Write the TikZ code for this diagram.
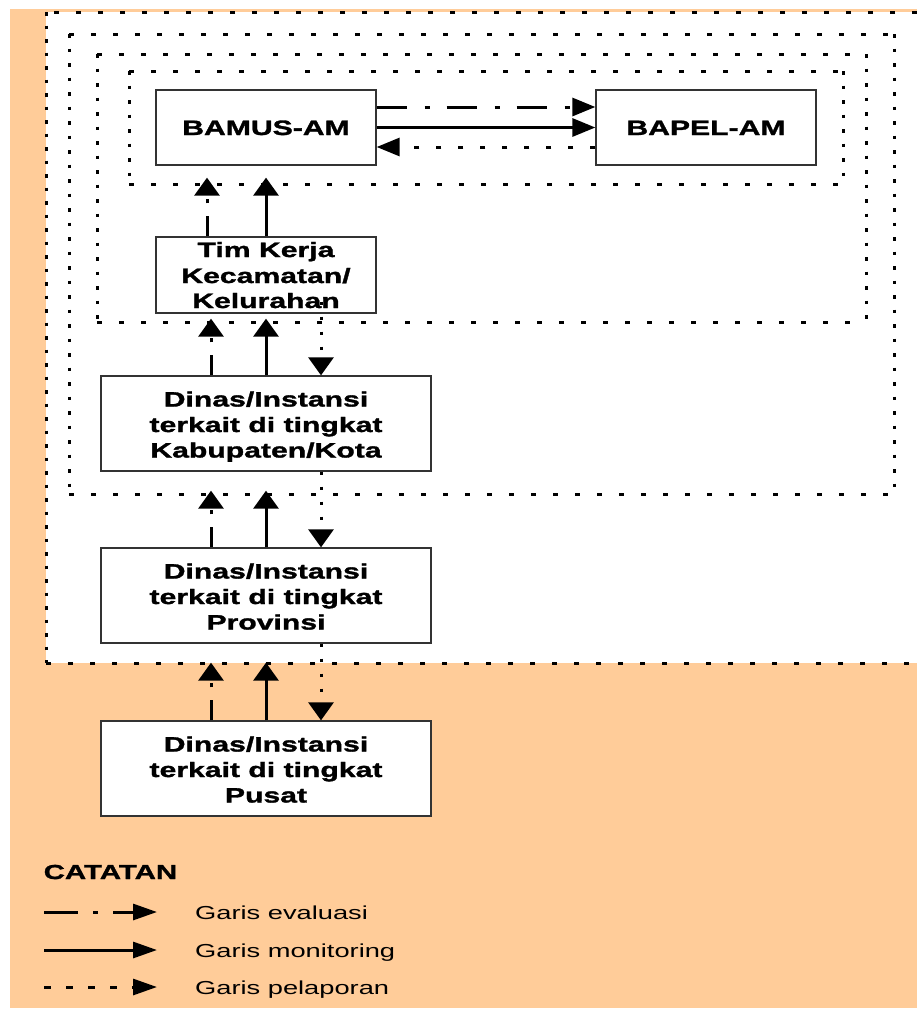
\documentclass[tikz,border=0pt]{standalone}
\usepackage{fontspec}
\setmainfont{Liberation Sans}[FakeStretch=1.45,BoldFeatures={FakeBold=1.5}]
\usetikzlibrary{arrows.meta}
\definecolor{peach}{HTML}{FFCC99}
\definecolor{boxline}{HTML}{333333}
\begin{document}
\begin{tikzpicture}[x=1pt,y=-1pt,
  boxn/.style={draw=boxline, line width=1.3pt, fill=white, rectangle, inner sep=0pt},
  lbl/.style={anchor=base, inner sep=0pt, font=\fontsize{20.8}{25}\selectfont\bfseries},
  leg/.style={anchor=base west, inner sep=0pt, font=\fontsize{18.8}{22}\selectfont},
  dotH/.style={line width=3pt, dash pattern=on 5pt off 17pt},
  dotV/.style={line width=3pt, dash pattern=on 3.5pt off 11pt},
  tipV/.style={-{Triangle[length=18pt,width=25pt]}},
  tipH/.style={-{Triangle[length=23pt,width=18pt]}},
  tipL/.style={-{Triangle[length=24pt,width=16pt]}},
  evalV/.style={line width=3pt, dash pattern=on 20pt off 13pt on 4pt off 13pt, tipV},
  monV/.style={line width=3pt, tipV},
  repV/.style={line width=3pt, dash pattern=on 3.5pt off 11.5pt, tipV},
  evalH/.style={line width=3pt, dash pattern=on 30pt off 18pt on 5pt off 17pt, tipH},
  monH/.style={line width=3pt, tipH},
  repH/.style={line width=3pt, dash pattern=on 5pt off 17pt, tipH},
  evalL/.style={line width=3pt, dash pattern=on 34pt off 15pt on 5pt off 15pt, tipL},
  monL/.style={line width=3pt, tipL},
  repL/.style={line width=3pt, dash pattern=on 7pt off 15pt, tipL}
]
\useasboundingbox (0,0) rectangle (917,1009);
% backgrounds
\fill[peach] (10,9) rectangle (917,1008);
\fill[white] (46,12) rectangle (917,663);
\draw[dotH] (917,12) -- (46,12);
\draw[line width=3pt, dash pattern=on 3.5pt off 10pt] (46,12) -- (46,663);
\draw[dotH] (46,663) -- (917,663);
% nested dotted frames
\draw[dotH] (69,34) -- (894,34) (69,494) -- (894,494);
\draw[dotV] (69,34) -- (69,494) (894,34) -- (894,494);
\draw[dotH] (97,54) -- (866,54) (97,322) -- (866,322);
\draw[dotV] (97,54) -- (97,322) (866,54) -- (866,322);
\draw[dotH] (129,71) -- (843,71) (129,184) -- (843,184);
\draw[dotV] (129,71) -- (129,184) (843,71) -- (843,184);
% boxes
\node[boxn, minimum width=220pt, minimum height=75pt] (bamus) at (266,127.5) {};
\node[boxn, minimum width=220pt, minimum height=75pt] (bapel) at (706,127.5) {};
\node[boxn, minimum width=220pt, minimum height=76pt] (tim) at (266,275) {};
\node[boxn, minimum width=330pt, minimum height=95pt] (kab) at (266,423.5) {};
\node[boxn, minimum width=330pt, minimum height=95pt] (prov) at (266,595.5) {};
\node[boxn, minimum width=330pt, minimum height=95pt] (pusat) at (266,768.5) {};
% labels
\node[lbl] (bamusT) at (266,135) {BAMUS-AM};
\node[lbl] (bapelT) at (706,135) {BAPEL-AM};
\node[lbl] (tim1) at (266,257) {Tim Kerja};
\node[lbl] (tim2) at (266,283) {Kecamatan/};
\node[lbl] (tim3) at (266,308) {Kelurahan};
\node[lbl] (kab1) at (266,406.5) {Dinas/Instansi};
\node[lbl] (kab2) at (266,432) {terkait di tingkat};
\node[lbl] (kab3) at (266,457.5) {Kabupaten/Kota};
\node[lbl] (prov1) at (266,578.5) {Dinas/Instansi};
\node[lbl] (prov2) at (266,604) {terkait di tingkat};
\node[lbl] (prov3) at (266,629.5) {Provinsi};
\node[lbl] (pusat1) at (266,751.5) {Dinas/Instansi};
\node[lbl] (pusat2) at (266,777) {terkait di tingkat};
\node[lbl] (pusat3) at (266,802.5) {Pusat};
% horizontal connectors
\draw[evalH] ([yshift=20.5pt]bamus.east) -- ([yshift=20.5pt]bapel.west);
\draw[monH] (bamus.east) -- (bapel.west);
\draw[repH] ([yshift=-19.5pt]bapel.west) -- ([yshift=-19.5pt]bamus.east);
% vertical connectors
\draw[evalV, shorten >=12pt] ([xshift=-59pt]tim.north) -- ([xshift=-59pt]bamus.south);
\draw[monV, shorten >=12pt] (tim.north) -- (bamus.south);
\draw[evalV, shorten >=5pt] ([xshift=-55pt]kab.north) -- ([xshift=-55pt]tim.south);
\draw[monV, shorten >=5pt] (kab.north) -- (tim.south);
\draw[repV, shorten <=-12pt] ([xshift=55pt]tim.south) -- ([xshift=55pt]kab.north);
\draw[evalV, shorten >=19pt] ([xshift=-55pt]prov.north) -- ([xshift=-55pt]kab.south);
\draw[monV, shorten >=19pt] (prov.north) -- (kab.south);
\draw[repV] ([xshift=55pt]kab.south) -- ([xshift=55pt]prov.north);
\draw[evalV, shorten >=19pt] ([xshift=-55pt]pusat.north) -- ([xshift=-55pt]prov.south);
\draw[monV, shorten >=19pt] (pusat.north) -- (prov.south);
\draw[repV] ([xshift=55pt]prov.south) -- ([xshift=55pt]pusat.north);
% legend
\node[anchor=base west, inner sep=0pt, font=\fontsize{20.3}{24}\selectfont\bfseries] (catatan) at (43.5,879) {CATATAN};
\coordinate (e1) at (44,912); \coordinate (e2) at (157,912);
\coordinate (m1) at (44,950); \coordinate (m2) at (157,950);
\coordinate (r1) at (44,987); \coordinate (r2) at (157,987);
\draw[evalL] (e1) -- (e2);
\draw[monL] (m1) -- (m2);
\draw[repL] (r1) -- (r2);
\node[leg] (lt1) at (195,919.5) {Garis evaluasi};
\node[leg] (lt2) at (195,957) {Garis monitoring};
\node[leg] (lt3) at (195,994.5) {Garis pelaporan};
\end{tikzpicture}
\end{document}
